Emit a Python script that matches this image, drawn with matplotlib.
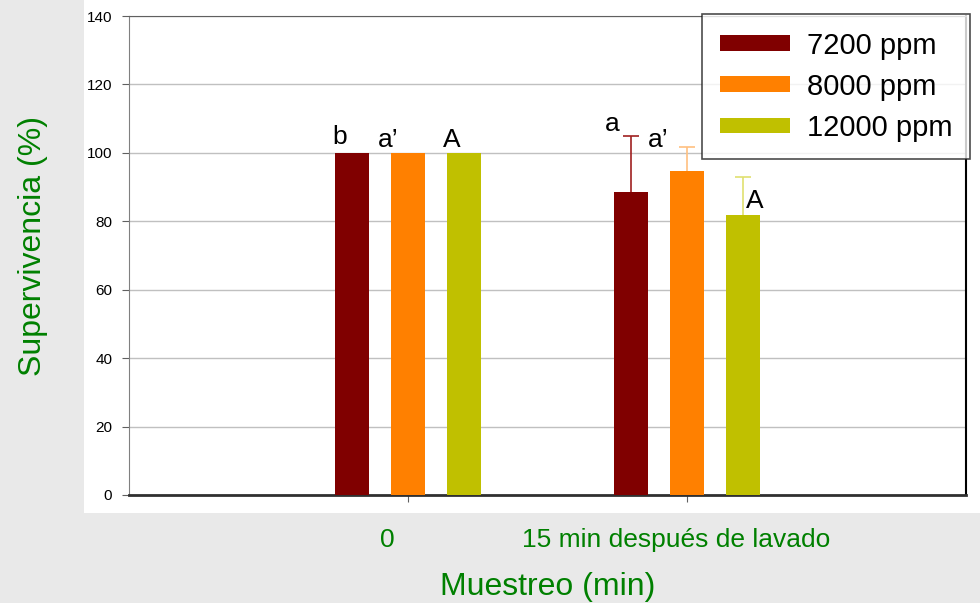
import matplotlib
matplotlib.use("Agg")
import matplotlib.pyplot as plt
from matplotlib.patches import Rectangle
import numpy as np

plt.rcParams['font.family'] = ['Liberation Sans', 'DejaVu Sans']

# datos
categorias = ["0", "15 min después de lavado"]
series = ["7200 ppm", "8000 ppm", "12000 ppm"]
valores = [[100, 88.7], [100, 94.7], [100, 81.8]]
errores = [[0, 16.3], [0, 7.1], [0, 11.1]]
letras = [["b", "a"], ["a’", "a’"], ["A", "A"]]
yticks = [0, 20, 40, 60, 80, 100, 120, 140]

colores = ["#800000", "#ff8000", "#c0c000"]
colores_err = ["#a02020", "#ffc080", "#e0e070"]
verde = "#008000"

fig = plt.figure(figsize=(9.8, 6.03), dpi=100)
fig.patch.set_facecolor("#e9e9e9")
fig.patches.append(Rectangle((84 / 980, 1 - 513 / 603), 1 - 84 / 980, 513 / 603,
                             transform=fig.transFigure, facecolor="white",
                             edgecolor="none", zorder=-5))
ax = fig.add_axes([129 / 980, 108 / 603, 837 / 980, 479 / 603])
ax.set_facecolor("white")

x = np.arange(len(categorias))
sep = 0.2
ancho = 0.122
# desplazamientos de las letras (px)
off_x = [[-13, -19], [-20, -29], [-12, 12]]
off_y = [[9, 5], [6, 0], [6, -31]]

for i in range(len(series)):
    xs = x + (i - 1) * sep
    ax.bar(xs, valores[i], width=ancho, color=colores[i], label=series[i], zorder=3)
    # solo barras de error hacia arriba, y solo donde hay error
    v = np.array(valores[i])
    e = np.array(errores[i])
    m = e > 0
    if m.any():
        _, caps, _ = ax.errorbar(xs[m], v[m], yerr=[np.zeros(m.sum()), e[m]], fmt="none",
                                 ecolor=colores_err[i], elinewidth=1.2, capsize=6,
                                 capthick=1.2, zorder=4)
        caps[0].set_visible(False)
    for j in range(len(categorias)):
        top = valores[i][j] + errores[i][j]
        ax.annotate(letras[i][j], (xs[j], top), xytext=(off_x[i][j] * 0.72, off_y[i][j] * 0.72),
                    textcoords="offset points", ha="center", va="baseline", fontsize=19)

ax.set_xlim(-1, 2)
ax.set_ylim(0, 140)
ax.set_yticks(yticks)
# ticks sin etiqueta, etiquetas en ticks menores algo corridas
ax.set_xticks(x)
ax.set_xticklabels(["", ""])
ax.set_xticks(x + np.array([-0.075, -0.039]), minor=True)
ax.set_xticklabels(categorias, minor=True, fontsize=19, color=verde)
ax.tick_params(axis="x", which="major", length=5, color="#606060")
ax.tick_params(axis="x", which="minor", length=0, pad=24)
ax.tick_params(axis="y", length=5, color="#606060", labelsize=11, pad=7)
ax.grid(axis="y", color="#c0c0c0", linewidth=1, zorder=0)
ax.set_axisbelow(True)

ax.spines["left"].set_color("#808080")
ax.spines["top"].set_color("#606060")
ax.spines["right"].set_color("black")
ax.spines["right"].set_linewidth(1.5)
ax.spines["bottom"].set_color("#303030")
ax.spines["bottom"].set_linewidth(2)

ax.set_xlabel("Muestreo (min)", fontsize=23, color=verde, labelpad=14)
ax.set_ylabel("Supervivencia (%)", fontsize=23, color=verde)
ax.yaxis.set_label_coords(-0.097, 0.52)

leg = fig.legend(loc="upper left", bbox_to_anchor=(702 / 980, 1 - 157 / 603, 268 / 980, 143 / 603),
                 mode="expand", fontsize=21, frameon=True, fancybox=False, edgecolor="#202020",
                 handlelength=2.4, handleheight=0.45, handletextpad=0.6,
                 labelspacing=0.45, borderpad=0.6, borderaxespad=0)
leg.get_frame().set_linewidth(1.2)
leg.set_zorder(10)

plt.savefig("out.png", dpi=100, facecolor=fig.get_facecolor())
